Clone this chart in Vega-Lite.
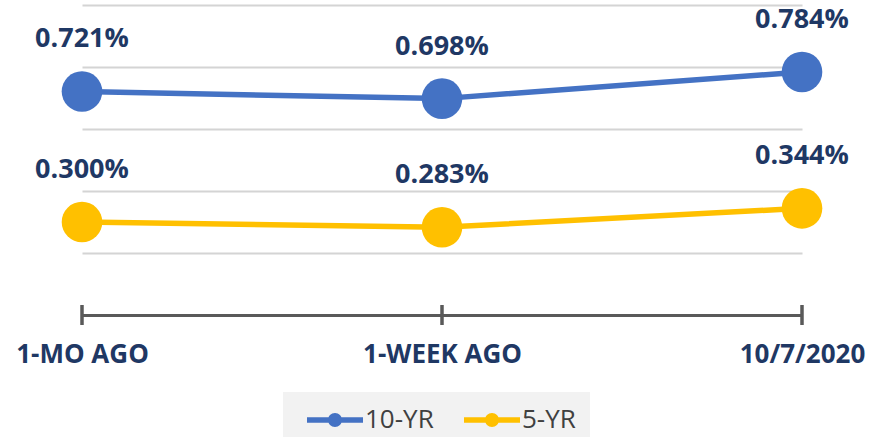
{
  "$schema": "https://vega.github.io/schema/vega-lite/v6.json",
  "width": 720,
  "height": 310,
  "autosize": {"type": "none"},
  "padding": {"left": 82, "top": 5, "right": 74, "bottom": 122},
  "background": "white",
  "config": {"view": {"stroke": null}, "font": "Open Sans"},
  "data": {
    "values": [
      {"period": "1-MO AGO", "series": "10-YR", "rate": 0.00721},
      {"period": "1-WEEK AGO", "series": "10-YR", "rate": 0.00698},
      {"period": "10/7/2020", "series": "10-YR", "rate": 0.00784},
      {"period": "1-MO AGO", "series": "5-YR", "rate": 0.003},
      {"period": "1-WEEK AGO", "series": "5-YR", "rate": 0.00283},
      {"period": "10/7/2020", "series": "5-YR", "rate": 0.00344}
    ]
  },
  "encoding": {
    "x": {
      "field": "period",
      "type": "ordinal",
      "sort": ["1-MO AGO", "1-WEEK AGO", "10/7/2020"],
      "scale": {"type": "point", "padding": 0},
      "axis": {
        "title": null,
        "labelAngle": 0,
        "domainColor": "#595959",
        "domainWidth": 3,
        "ticks": false,
        "labelFontSize": 26,
        "labelFontWeight": "bold",
        "labelColor": "#1F3864",
        "labelPadding": 26,
        "labelFlush": false,
        "labelBound": false,
        "labelOverlap": false
      }
    }
  },
  "layer": [
    {
      "mark": {"type": "line", "strokeWidth": 5.5},
      "encoding": {
        "y": {
          "field": "rate",
          "type": "quantitative",
          "scale": {"domain": [0, 0.01], "nice": false, "zero": true},
          "axis": {
            "values": [0.002, 0.004, 0.006, 0.008, 0.01],
            "labels": false,
            "ticks": false,
            "domain": false,
            "title": null,
            "grid": true,
            "gridColor": "#D4D4D4",
            "gridWidth": 2
          }
        },
        "color": {
          "field": "series",
          "type": "nominal",
          "sort": ["10-YR", "5-YR"],
          "scale": {"domain": ["10-YR", "5-YR"], "range": ["#4472C4", "#FFC000"]},
          "legend": {
            "orient": "none",
            "legendX": 201,
            "legendY": 387,
            "direction": "horizontal",
            "title": null,
            "fillColor": "#F2F2F2",
            "padding": 14,
            "labelFontSize": 26,
            "labelColor": "#404040",
            "labelFont": "Open Sans",
            "symbolType": "M-2,-0.2L2,-0.2L2,0.2L-2,0.2Z M0.5,0 A0.5,0.5 0 1,1 -0.5,0 A0.5,0.5 0 1,1 0.5,0Z",
            "symbolSize": 784,
            "symbolStrokeWidth": 0,
            "symbolOffset": 24,
            "columnPadding": 20,
            "labelOffset": 16
          }
        }
      }
    },
    {
      "mark": {"type": "point", "filled": true, "size": 1650, "opacity": 1},
      "encoding": {
        "y": {"field": "rate", "type": "quantitative"},
        "color": {"field": "series", "type": "nominal"}
      }
    },
    {
      "mark": {"type": "text", "dy": -52, "fontSize": 27, "fontWeight": "bold", "color": "#1F3864"},
      "encoding": {
        "y": {"field": "rate", "type": "quantitative"},
        "text": {"field": "rate", "type": "quantitative", "format": ".3%"}
      }
    },
    {
      "mark": {"type": "rule", "color": "#595959", "strokeWidth": 3},
      "encoding": {
        "y": {"datum": -0.000323},
        "y2": {"datum": 0.000323}
      }
    }
  ]
}
